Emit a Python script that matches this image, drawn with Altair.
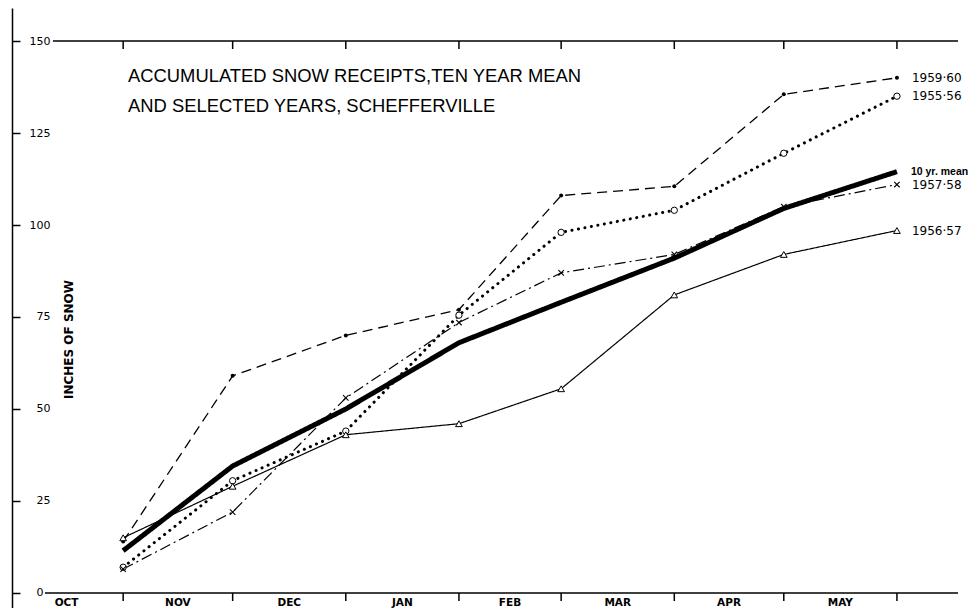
import altair as alt
import pandas as pd

# ---- data ----
month_names = ["OCT", "NOV", "DEC", "JAN", "FEB", "MAR", "APR", "MAY"]
month_start_day = [0, 31, 61, 92, 123, 151, 182, 212, 243]   # days since 1 Oct
obs_day = [31, 61, 92, 123, 151, 182, 212, 243]              # 1st of Nov ... 1st of Jun

s_1959_60 = [14, 59, 70, 77, 108, 110.5, 135.5, 140]
s_1955_56 = [7, 30.5, 44, 75.5, 98, 104, 119.5, 135]
s_mean = [11.5, 34.5, 50, 68, 79, 91, 104.5, 114.5]
s_1957_58 = [6.5, 22, 53, 73.5, 87, 92, 105, 111]
s_1956_57 = [15, 29, 43, 46, 55.5, 81, 92, 98.5]

series_names = ["1959·60", "1955·56", "10 yr. mean", "1957·58", "1956·57"]
series_values = [s_1959_60, s_1955_56, s_mean, s_1957_58, s_1956_57]

y_ticks = [0, 25, 50, 75, 100, 125, 150]
title_lines = ["ACCUMULATED SNOW RECEIPTS,TEN YEAR MEAN", "AND SELECTED YEARS, SCHEFFERVILLE"]
y_title = "INCHES OF SNOW"

# ---- tables ----
rows = []
for name, vals in zip(series_names, series_values):
    for d, v in zip(obs_day, vals):
        rows.append({"series": name, "day": d, "value": v})
df = pd.DataFrame(rows)

ticks_df = pd.DataFrame({"day": month_start_day[1:]})
mid_df = pd.DataFrame({
    "day": [(a + b) / 2 for a, b in zip(month_start_day[:-1], month_start_day[1:])],
    "label": month_names,
})
title_df = pd.DataFrame({"line": title_lines, "i": [0, 1]})

W, H = 960, 600
xscale = alt.Scale(domain=[-0.55, 262.47], nice=False, zero=False)
yscale = alt.Scale(domain=[-4.08, 158.97], nice=False, zero=False)
FONT = "DejaVu Sans"

yaxis = alt.Axis(
    orient="right", offset=-956, values=y_ticks, grid=False,
    domainColor="black", domainWidth=1.5, tickColor="black", tickWidth=1.5, tickSize=8,
    labelAlign="right", labelBaseline="middle",
    labelPadding={"condition": {"test": "datum.value === 0", "value": 23}, "value": 30},
    labelFont=FONT, labelFontSize=11, labelColor="black", labelOverlap=False,
    title=y_title, titleAngle=270, titleX=56, titleY=331, titleAlign="center",
    titleBaseline="middle", titleFont=FONT, titleFontSize=12, titleFontWeight="bold",
    titleColor="black",
)

X = alt.X("day:Q", scale=xscale, axis=None)
Y = alt.Y("value:Q", scale=yscale, axis=yaxis)

layers = []

# frame lines at 0 and 150
base_rule = alt.Chart(pd.DataFrame({"k": [0]}))
layers.append(base_rule.mark_rule(color="black", strokeWidth=1.5).encode(
    x=alt.value(37), x2=alt.value(950), y=alt.value(585)))
layers.append(base_rule.mark_rule(color="black", strokeWidth=1.5).encode(
    x=alt.value(45), x2=alt.value(950), y=alt.value(33)))

# month ticks (bottom and top)
layers.append(alt.Chart(ticks_df).mark_rule(color="black", strokeWidth=1.5).encode(
    x=X, y=alt.value(585), y2=alt.value(593)))
layers.append(alt.Chart(ticks_df).mark_rule(color="black", strokeWidth=1.5).encode(
    x=X, y=alt.value(33), y2=alt.value(41)))

# month labels
layers.append(alt.Chart(mid_df).mark_text(
    font=FONT, fontSize=10.5, fontWeight="bold", color="black", align="center",
    baseline="alphabetic").encode(x=X, y=alt.value(598), text="label:N"))

# series styles
styles = {
    "1959·60": dict(dash=[10, 6], width=1.3, cap="butt"),
    "1955·56": dict(dash=[0.1, 6.5], width=3, cap="round"),
    "10 yr. mean": dict(dash=[1, 0], width=5, cap="butt"),
    "1957·58": dict(dash=[11, 4, 2, 4], width=1.2, cap="butt"),
    "1956·57": dict(dash=[1, 0], width=1.2, cap="butt"),
}
for name in series_names:
    st = styles[name]
    layers.append(alt.Chart(df).transform_filter(alt.datum.series == name).mark_line(
        color="black", strokeWidth=st["width"], strokeDash=st["dash"], strokeCap=st["cap"]
    ).encode(x=X, y=Y))

# markers
def pts(name):
    return alt.Chart(df).transform_filter(alt.datum.series == name)

layers.append(pts("1959·60").mark_point(shape="circle", filled=True, color="black", size=16, opacity=1).encode(x=X, y=Y))
layers.append(pts("1955·56").mark_point(shape="circle", filled=False, fill="white", stroke="black", strokeWidth=1, size=40, opacity=1).encode(x=X, y=Y))
layers.append(pts("1957·58").mark_point(shape="M-1,-1L1,1M-1,1L1,-1", filled=False, stroke="black", strokeWidth=1.1, size=30, opacity=1).encode(x=X, y=Y))
layers.append(pts("1956·57").mark_point(shape="triangle-up", filled=False, fill="white", stroke="black", strokeWidth=1, size=45, opacity=1).encode(x=X, y=Y))

# end labels
end_df = df[df["day"] == obs_day[-1]]
for name in series_names:
    if name == "10 yr. mean":
        kw = dict(font="Liberation Sans", fontSize=10.5, fontWeight="bold", dx=14)
    else:
        kw = dict(font=FONT, fontSize=12, dx=15)
    layers.append(alt.Chart(end_df).transform_filter(alt.datum.series == name).mark_text(
        color="black", align="left", baseline="middle", **kw
    ).encode(x=X, y=Y, text="series:N"))

# title (two lines)
layers.append(alt.Chart(title_df).transform_filter(alt.datum.i == 0).mark_text(
    font="Liberation Sans", fontSize=18.4, color="black", align="left", baseline="alphabetic"
).encode(x=alt.value(120), y=alt.value(74.3), text="line:N"))
layers.append(alt.Chart(title_df).transform_filter(alt.datum.i == 1).mark_text(
    font="Liberation Sans", fontSize=18.4, color="black", align="left", baseline="alphabetic"
).encode(x=alt.value(120), y=alt.value(104), text="line:N"))

chart = alt.layer(*layers).properties(
    width=W, height=H, autosize=alt.AutoSizeParams(type="none"), padding=0,
    background="white",
).configure_view(stroke=None)

chart.save("out.html", embed_options={"renderer": "svg", "actions": False})
